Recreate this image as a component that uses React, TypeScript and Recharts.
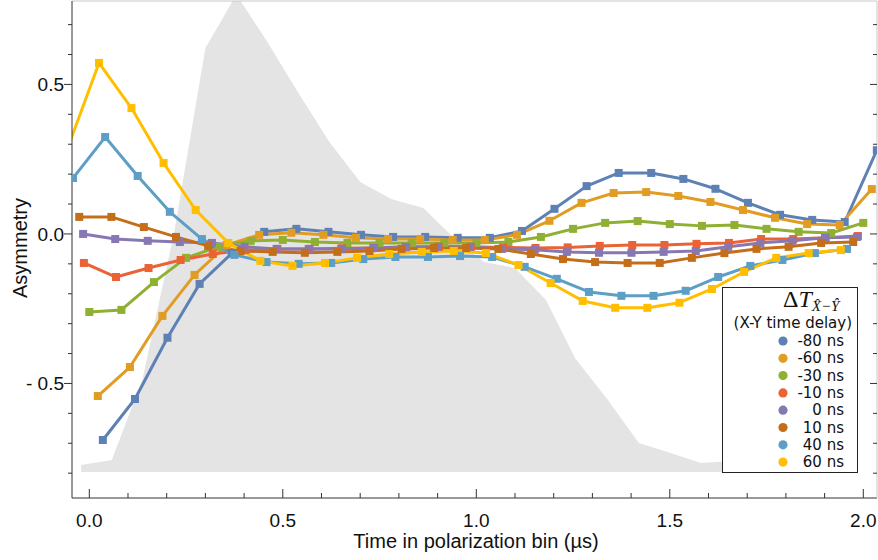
import React from 'react';
import { ComposedChart, Line, Area, XAxis, YAxis, Legend } from 'recharts';

// ---- legend / series meta ----
const delayLabels = ['-80 ns', '-60 ns', '-30 ns', '-10 ns', '0 ns', '10 ns', '40 ns', '60 ns'];
const seriesColors = ['#5E81B5', '#E19C24', '#8FB032', '#EB6235', '#8778B3', '#C56E1A', '#5D9EC7', '#FFBF00'];

// ---- polarization bin centres (µs) and per-series time offsets ----
const binTimes = [0, 0.083, 0.167, 0.25, 0.333, 0.417, 0.5, 0.583, 0.667, 0.75, 0.833, 0.917, 1.0,
  1.083, 1.167, 1.25, 1.333, 1.417, 1.5, 1.583, 1.667, 1.75, 1.833, 1.917, 2.0];
const timeShifts = [0.035, 0.022, 0.0, -0.014, -0.016, -0.026, -0.042, -0.058];

// ---- asymmetry values ----
const asymM80 = [-0.689, -0.552, -0.347, -0.167, -0.065, 0.007, 0.017, 0.007, -0.003, -0.01, -0.01, -0.013, -0.013,
  0.01, 0.084, 0.16, 0.204, 0.204, 0.184, 0.151, 0.104, 0.064, 0.047, 0.04, 0.28];
const asymM60 = [-0.542, -0.445, -0.274, -0.137, -0.037, -0.003, 0.004, -0.003, -0.013, -0.017, -0.017, -0.02, -0.02,
  -0.003, 0.044, 0.104, 0.137, 0.14, 0.127, 0.107, 0.08, 0.054, 0.033, 0.03, 0.15];
const asymM30 = [-0.261, -0.254, -0.161, -0.08, -0.043, -0.023, -0.02, -0.027, -0.03, -0.03, -0.03, -0.03, -0.03,
  -0.027, -0.01, 0.017, 0.037, 0.043, 0.033, 0.027, 0.03, 0.017, 0.007, 0.003, 0.037];
const asymM10 = [-0.097, -0.144, -0.114, -0.087, -0.067, -0.054, -0.05, -0.05, -0.048, -0.047, -0.045, -0.043, -0.043,
  -0.045, -0.047, -0.045, -0.04, -0.037, -0.037, -0.033, -0.03, -0.017, -0.017, -0.013, -0.007];
const asym0 = [0.0, -0.017, -0.023, -0.027, -0.03, -0.043, -0.05, -0.05, -0.05, -0.047, -0.043, -0.043, -0.043,
  -0.05, -0.053, -0.06, -0.063, -0.063, -0.06, -0.057, -0.043, -0.03, -0.023, -0.013, -0.01];
const asymP10 = [0.057, 0.057, 0.023, -0.01, -0.04, -0.057, -0.06, -0.063, -0.06, -0.057, -0.05, -0.047, -0.047,
  -0.05, -0.067, -0.084, -0.094, -0.097, -0.097, -0.08, -0.064, -0.05, -0.043, -0.03, -0.027];
const asymP40 = [0.187, 0.324, 0.194, 0.074, -0.017, -0.07, -0.094, -0.1, -0.097, -0.084, -0.077, -0.077, -0.074,
  -0.077, -0.11, -0.15, -0.194, -0.207, -0.207, -0.19, -0.144, -0.107, -0.087, -0.064, -0.05];
const asymP60 = [0.28, 0.572, 0.421, 0.237, 0.08, -0.03, -0.09, -0.107, -0.097, -0.08, -0.067, -0.06, -0.057,
  -0.064, -0.104, -0.164, -0.224, -0.247, -0.247, -0.23, -0.184, -0.127, -0.08, -0.064, -0.054];
const allSeries = [asymM80, asymM60, asymM30, asymM10, asym0, asymP10, asymP40, asymP60];

// ---- grey background (photon arrival profile, scaled) ----
const profileTimes = [-0.021, 0.058, 0.137, 0.22, 0.30, 0.38, 0.457, 0.54, 0.62, 0.70, 0.78, 0.863, 0.94,
  1.02, 1.10, 1.18, 1.255, 1.34, 1.42, 1.50, 1.58, 1.66, 1.73, 1.81, 1.89, 1.97];
const profileValues = [-0.773, -0.756, -0.488, 0.01, 0.622, 0.80, 0.649, 0.472, 0.308, 0.174, 0.117, 0.087, -0.01,
  -0.094, -0.114, -0.221, -0.415, -0.555, -0.699, -0.732, -0.766, -0.759, -0.789, -0.779, -0.79, -0.79];
const profileBase = -0.796;

// ---- axes ----
const xTicks = [0, 0.1, 0.2, 0.3, 0.4, 0.5, 0.6, 0.7, 0.8, 0.9, 1.0, 1.1, 1.2, 1.3, 1.4, 1.5, 1.6, 1.7, 1.8, 1.9, 2.0];
const yTicks = [-0.8, -0.7, -0.6, -0.5, -0.4, -0.3, -0.2, -0.1, 0, 0.1, 0.2, 0.3, 0.4, 0.5, 0.6, 0.7];
const xDomain = [-0.0447, 2.0354];
const yDomain = [-0.883, 0.779];

const AXIS_FONT = "'Liberation Sans', Arial, Helvetica, sans-serif";
const isMajor = (v: number) => Math.abs(v * 2 - Math.round(v * 2)) < 1e-6;
const fmtY = (v: number) => (v < -1e-9 ? '- ' + Math.abs(v).toFixed(1) : Math.abs(v).toFixed(1));

const BottomTick = (props: any) => {
  const { x, y, payload } = props;
  const major = isMajor(payload.value);
  return (
    <g>
      <line x1={x} x2={x} y1={y} y2={y - (major ? 9 : 5)} stroke="#333" strokeWidth={1} />
      {major && (
        <text x={x} y={y + 29} textAnchor="middle" fontSize={19} fontFamily={AXIS_FONT} fill="#111">
          {payload.value.toFixed(1)}
        </text>
      )}
    </g>
  );
};

const LeftTick = (props: any) => {
  const { x, y, payload } = props;
  const major = isMajor(payload.value);
  return (
    <g>
      <line x1={x} x2={x - (major ? 8 : 4)} y1={y} y2={y} stroke="#333" strokeWidth={1} />
      {major && (
        <text x={x - 8} y={y + 7} textAnchor="end" fontSize={19} fontFamily={AXIS_FONT} fill="#111">
          {fmtY(payload.value)}
        </text>
      )}
    </g>
  );
};

const TopTick = (props: any) => {
  const { x, y } = props;
  return <line x1={x} x2={x} y1={y} y2={y + 7} stroke="#333" strokeWidth={1} />;
};

const RightTick = (props: any) => {
  const { x, y, payload } = props;
  const major = isMajor(payload.value);
  return <line x1={x} x2={x - (major ? 7 : 4)} y1={y} y2={y} stroke="#333" strokeWidth={1} />;
};

const makeDot = (color: string, name: string) => (p: any) => (
  <rect key={`${name}-${p.index}`} x={p.cx - 4} y={p.cy - 4} width={8} height={8} fill={color} />
);

const LegendBox = () => (
  <svg width={137} height={187} style={{ display: 'block', overflow: 'visible' }}>
    <rect x={0.5} y={0.5} width={135} height={185} fill="#fff" stroke="#222" strokeWidth={1} />
    <text x={61} y={20} fontFamily="'Liberation Serif', 'DejaVu Serif', serif" fontSize={24} fill="#111">
      Δ<tspan fontStyle="italic">T</tspan>
      <tspan fontStyle="italic" fontSize={15} dy={4}>X̂−Ŷ</tspan>
    </text>
    <text x={130} y={41} textAnchor="end" fontFamily="'DejaVu Sans', Verdana, sans-serif" fontSize={15} fill="#111">
      (X-Y time delay)
    </text>
    {delayLabels.map((lab, i) => (
      <g key={lab}>
        <circle cx={61} cy={54 + i * 17.3} r={4.6} fill={seriesColors[i]} />
        <text x={122} y={59 + i * 17.3} textAnchor="end" fontFamily="'DejaVu Sans', Verdana, sans-serif" fontSize={15} fill="#111">
          {lab}
        </text>
      </g>
    ))}
  </svg>
);

export default function App() {
  const profileData = profileTimes.map((t, i) => ({ t, v: profileValues[i] }));
  return (
    <div style={{ position: 'absolute', left: 0, top: 0, width: 878, height: 560, background: '#fff' }}>
      <ComposedChart width={878} height={560} margin={{ top: 0, right: 0, bottom: 0, left: 0 }}>
        <XAxis
          xAxisId="b"
          type="number"
          dataKey="t"
          orientation="bottom"
          domain={xDomain}
          allowDataOverflow
          ticks={xTicks}
          interval={0}
          height={62}
          tickSize={0}
          tickMargin={0}
          tickLine={false}
          axisLine={{ stroke: '#333', strokeWidth: 1 }}
          tick={<BottomTick />}
          label={() => (
            <text x={476} y={548} textAnchor="middle" fontSize={20} fontFamily={AXIS_FONT} fill="#111">
              Time in polarization bin (µs)
            </text>
          )}
        />
        <XAxis
          xAxisId="top"
          type="number"
          orientation="top"
          domain={xDomain}
          allowDataOverflow
          ticks={xTicks}
          interval={0}
          height={1}
          tickSize={0}
          tickMargin={0}
          tickLine={false}
          axisLine={{ stroke: '#c8c8c8', strokeWidth: 1 }}
          tick={<TopTick />}
        />
        <YAxis
          yAxisId="l"
          type="number"
          orientation="left"
          domain={yDomain}
          allowDataOverflow
          ticks={yTicks}
          interval={0}
          width={72}
          tickSize={0}
          tickMargin={0}
          tickLine={false}
          axisLine={{ stroke: '#333', strokeWidth: 1 }}
          tick={<LeftTick />}
          label={() => (
            <text x={27} y={248} transform="rotate(-90, 27, 248)" textAnchor="middle" fontSize={20} fontFamily={AXIS_FONT} fill="#111">
              Asymmetry
            </text>
          )}
        />
        <YAxis
          yAxisId="r"
          type="number"
          orientation="right"
          domain={yDomain}
          allowDataOverflow
          ticks={yTicks}
          interval={0}
          width={1}
          tickSize={0}
          tickMargin={0}
          tickLine={false}
          axisLine={{ stroke: '#c8c8c8', strokeWidth: 1 }}
          tick={<RightTick />}
        />
        <Area
          xAxisId="b"
          yAxisId="l"
          data={profileData}
          dataKey="v"
          type="linear"
          baseValue={profileBase}
          fill="#e4e4e4"
          fillOpacity={1}
          stroke="none"
          isAnimationActive={false}
          legendType="none"
        />
        {allSeries.map((vals, si) => (
          <Line
            key={delayLabels[si]}
            xAxisId="b"
            yAxisId="l"
            name={delayLabels[si]}
            data={vals.map((v, i) => ({ t: binTimes[i] + timeShifts[si], v }))}
            dataKey="v"
            type="linear"
            stroke={seriesColors[si]}
            strokeWidth={3}
            strokeLinejoin="round"
            dot={makeDot(seriesColors[si], delayLabels[si])}
            activeDot={false}
            isAnimationActive={false}
          />
        ))}
        <Legend
          layout="vertical"
          align="center"
          verticalAlign="middle"
          content={() => <LegendBox />}
          wrapperStyle={{ left: 722, top: 287, width: 137, height: 187 }}
        />
      </ComposedChart>
    </div>
  );
}
